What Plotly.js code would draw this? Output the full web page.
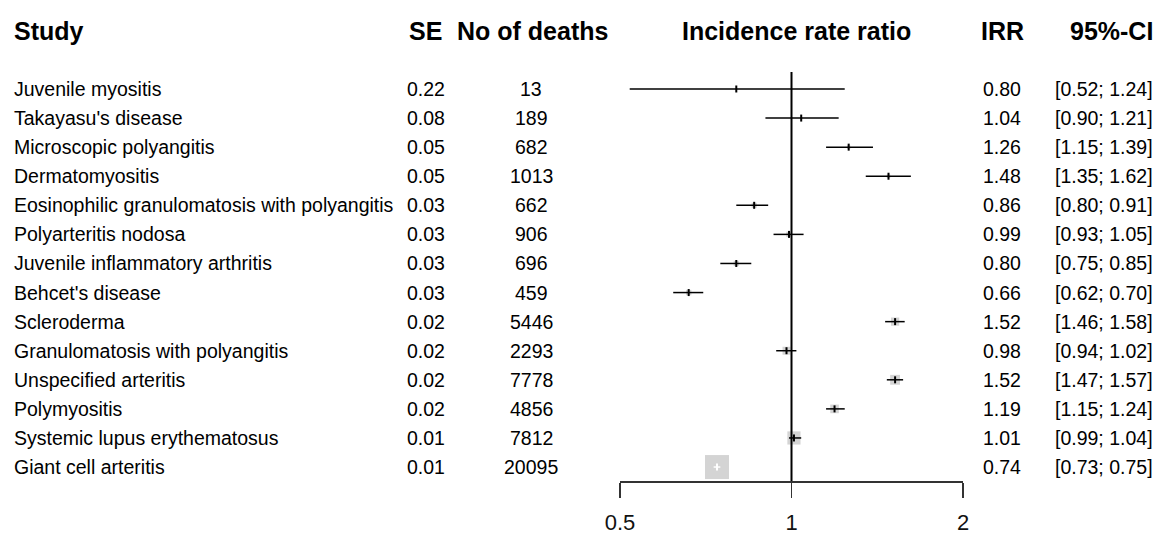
<!DOCTYPE html>
<html>
<head>
<meta charset="utf-8">
<script src="https://cdn.plot.ly/plotly-3.0.1.min.js"></script>
<style>
  html, body { margin: 0; padding: 0; background: #fff; }
  #chart { width: 1161px; height: 535px; }
</style>
</head>
<body>
<div id="chart"></div>
<script>
// Mortality incidence rate ratios by condition
const studies = [
  "Juvenile myositis", "Takayasu's disease", "Microscopic polyangitis", "Dermatomyositis",
  "Eosinophilic granulomatosis with polyangitis", "Polyarteritis nodosa",
  "Juvenile inflammatory arthritis", "Behcet's disease", "Scleroderma",
  "Granulomatosis with polyangitis", "Unspecified arteritis", "Polymyositis",
  "Systemic lupus erythematosus", "Giant cell arteritis"
];
const seValues = ["0.22", "0.08", "0.05", "0.05", "0.03", "0.03", "0.03", "0.03", "0.02", "0.02", "0.02", "0.02", "0.01", "0.01"];
const deaths = [13, 189, 682, 1013, 662, 906, 696, 459, 5446, 2293, 7778, 4856, 7812, 20095];
const irr = [0.80, 1.04, 1.26, 1.48, 0.86, 0.99, 0.80, 0.66, 1.52, 0.98, 1.52, 1.19, 1.01, 0.74];
const ciLower = [0.52, 0.90, 1.15, 1.35, 0.80, 0.93, 0.75, 0.62, 1.46, 0.94, 1.47, 1.15, 0.99, 0.73];
const ciUpper = [1.24, 1.21, 1.39, 1.62, 0.91, 1.05, 0.85, 0.70, 1.58, 1.02, 1.57, 1.24, 1.04, 0.75];
const xTicks = [0.5, 1, 2];

// Page geometry
const W = 1161, H = 535;
const axisLeft = 620, axisRight = 963, axisY = 481;
const xMin = 0.5, xMax = 2;
const rowTop = -3.06, rowBottom = 13.48;
const headerRow = -2;
const maxSquare = 24;
const FONT = "Liberation Sans, Arial, sans-serif";
const BODY = 19.5, HEAD = 25;

const rows = studies.map((_, i) => i);
const pxPerLog = (axisRight - axisLeft) / (Math.log10(xMax) - Math.log10(xMin));

// Square area proportional to inverse-variance weight (SE derived from the CI)
const seFromCI = ciLower.map((lo, i) => (Math.log(ciUpper[i]) - Math.log(lo)) / (2 * 1.96));
const minSE = Math.min(...seFromCI);
const sides = seFromCI.map(s => maxSquare * minSE / s);

// CI drawn in white when it lies entirely within its square
const inside = rows.map(i => {
  const c = Math.log10(irr[i]) * pxPerLog;
  const lo = Math.log10(ciLower[i]) * pxPerLog;
  const hi = Math.log10(ciUpper[i]) * pxPerLog;
  return lo > c - sides[i] / 2 && hi < c + sides[i] / 2;
});

function segs(flag) {
  const x = [], y = [];
  rows.forEach(i => {
    if (inside[i] === flag) { x.push(ciLower[i], ciUpper[i], null); y.push(i, i, null); }
  });
  return { x, y };
}
const blackSeg = segs(false), whiteSeg = segs(true);

const traces = [
  {
    x: irr, y: rows, type: "scatter", mode: "markers", hoverinfo: "skip",
    marker: { symbol: "square", size: sides, color: "#c2c2c2", line: { width: 0 } }
  },
  {
    x: [1, 1], y: [-0.58, rowBottom], type: "scatter", mode: "lines", hoverinfo: "skip",
    line: { color: "#000", width: 2 }
  },
  {
    x: blackSeg.x, y: blackSeg.y, type: "scatter", mode: "lines", hoverinfo: "skip",
    line: { color: "#000", width: 1.5 }
  },
  {
    x: whiteSeg.x, y: whiteSeg.y, type: "scatter", mode: "lines", hoverinfo: "skip",
    line: { color: "#fff", width: 1.5 }
  },
  {
    x: irr, y: rows, type: "scatter", mode: "markers", hoverinfo: "skip",
    marker: { symbol: "line-ns", size: 5, line: { width: 2, color: inside.map(v => v ? "#fff" : "#000") } }
  }
];

const annotations = [];
function txt(text, xpx, y, anchor, bold) {
  annotations.push({
    text: bold ? "<b>" + text + "</b>" : text,
    x: xpx / W, xref: "paper", y: y, yref: "y",
    xanchor: anchor, yanchor: "middle", showarrow: false,
    font: { family: FONT, size: bold ? HEAD : BODY, color: "#000" }
  });
}
// Column headers
txt("Study", 12, headerRow, "left", true);
txt("SE", 444, headerRow, "right", true);
txt("No of deaths", 532, headerRow, "center", true);
txt("Incidence rate ratio", 796, headerRow, "center", true);
txt("IRR", 1002, headerRow, "center", true);
txt("95%-CI", 1155, headerRow, "right", true);
// Row values
rows.forEach(i => {
  txt(studies[i], 12, i, "left", false);
  txt(seValues[i], 447, i, "right", false);
  txt(String(deaths[i]), 531, i, "center", false);
  txt(irr[i].toFixed(2), 1002, i, "center", false);
  txt("[" + ciLower[i].toFixed(2) + "; " + ciUpper[i].toFixed(2) + "]", 1155, i, "right", false);
});

const layout = {
  width: W, height: H,
  margin: { l: 0, r: 0, t: 0, b: 0 },
  paper_bgcolor: "#fff", plot_bgcolor: "#fff",
  showlegend: false,
  xaxis: {
    type: "log", domain: [axisLeft / W, axisRight / W],
    range: [Math.log10(xMin), Math.log10(xMax)],
    showline: true, linecolor: "#333", linewidth: 1.5,
    ticks: "outside", ticklen: 15, tickwidth: 1.5, tickcolor: "#333",
    tickvals: xTicks, ticktext: xTicks.map(String),
    tickfont: { family: FONT, size: 22, color: "#111" },
    ticklabelstandoff: 6,
    showgrid: false, zeroline: false, fixedrange: true
  },
  yaxis: {
    domain: [1 - axisY / H, 1], range: [rowBottom, rowTop],
    visible: false, fixedrange: true
  },
  annotations: annotations
};

Plotly.newPlot("chart", traces, layout, { staticPlot: true, displayModeBar: false });
</script>
</body>
</html>
